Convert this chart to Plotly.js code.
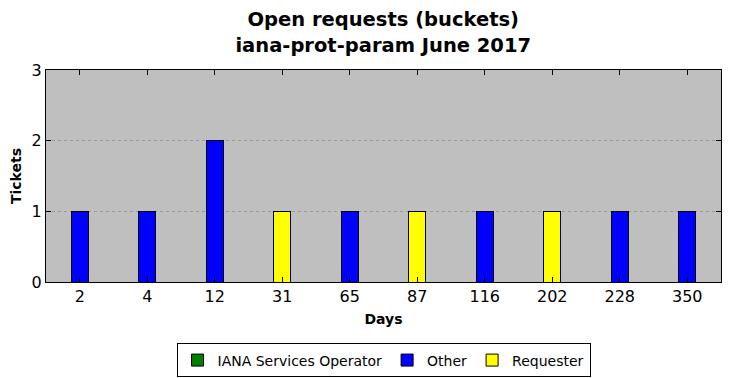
<!DOCTYPE html>
<html><head><meta charset="utf-8">
<script src="https://cdn.plot.ly/plotly-3.0.1.min.js"></script>
<style>html,body{margin:0;padding:0;background:#fff}#c{width:730px;height:378px}</style>
</head><body><div id="c"></div>
<script>
const days = ['2','4','12','31','65','87','116','202','228','350'];
const ianaOperator = [null,null,null,null,null,null,null,null,null,null];
const other = [1,1,2,null,1,null,1,null,1,1];
const requester = [null,null,null,1,null,1,null,1,null,null];

const font = 'DejaVu Sans, sans-serif';
const mk = (name, y, color) => ({
  type:'bar', name:name, x:days, y:y, width:0.25,
  marker:{color:color, line:{color:'#000', width:1}}
});
const data = [
  mk('IANA Services Operator', ianaOperator, '#008000'),
  mk('Other', other, '#0000ff'),
  mk('Requester', requester, '#ffff00')
];
const layout = {
  width:730, height:378,
  margin:{l:46, r:9, t:70, b:96, autoexpand:false},
  paper_bgcolor:'#fff', plot_bgcolor:'#bfbfbf',
  barmode:'stack',
  font:{family:font, color:'#000'},
  title:{text:'<b>Open requests (buckets)<br>iana-prot-param June 2017</b>', font:{size:19.5, family:font},
    x:0.525, xanchor:'center', yref:'container', y:0.93, yanchor:'middle'},
  xaxis:{type:'category', range:[-0.5,9.5], ticks:'inside', ticklen:5, tickcolor:'#000', mirror:'ticks',
    showline:true, linecolor:'#000', linewidth:1, showgrid:false, tickfont:{size:16},
    title:{text:'<b>Days</b>', font:{size:14}, standoff:8}},
  yaxis:{range:[0,3], tickvals:[0,1,2,3], ticks:'inside', ticklen:5, tickcolor:'#000', mirror:'ticks',
    showline:true, linecolor:'#000', linewidth:1, showgrid:true, gridcolor:'#999', griddash:'dot', gridwidth:1,
    zeroline:false, tickfont:{size:16}, title:{text:'<b>Tickets</b>', font:{size:14}, standoff:6}},
  legend:{orientation:'h', x:0.5, xanchor:'center', y:-0.29, yanchor:'top', bordercolor:'#000', borderwidth:1,
    font:{size:14}, traceorder:'normal', itemwidth:30},
  showlegend:true
};
Plotly.newPlot('c', data, layout, {displayModeBar:false});
</script></body></html>
